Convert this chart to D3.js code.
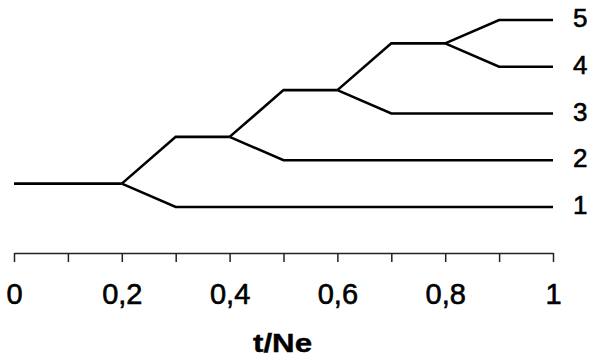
<!DOCTYPE html>
<html>
<head>
<meta charset="utf-8">
<script src="https://cdn.jsdelivr.net/npm/d3@7"></script>
<style>
  body { margin: 0; background: #fff; }
  svg { display: block; }
  .axis path, .axis line { stroke: #222; stroke-width: 1.5; }
  .axis text { font-family: "Liberation Sans", Arial, sans-serif; font-size: 29px; fill: #000; stroke: #000; stroke-width: 0.6; }
</style>
</head>
<body>
<div id="wrapper"></div>
<script>
// tree branches: each is a list of [t/Ne, lineage level]
var branches = [
  [[0, 1.5], [0.2, 1.5]],
  [[0.2, 1.5], [0.3, 1], [1, 1]],
  [[0.2, 1.5], [0.3, 2.5], [0.4, 2.5]],
  [[0.4, 2.5], [0.5, 2], [1, 2]],
  [[0.4, 2.5], [0.5, 3.5], [0.6, 3.5]],
  [[0.6, 3.5], [0.7, 3], [1, 3]],
  [[0.6, 3.5], [0.7, 4.5], [0.8, 4.5]],
  [[0.8, 4.5], [0.9, 4], [1, 4]],
  [[0.8, 4.5], [0.9, 5], [1, 5]]
];
var leafLabels = ["1", "2", "3", "4", "5"];
var leafLevels = [1, 2, 3, 4, 5];
var tickValues = [0, 0.1, 0.2, 0.3, 0.4, 0.5, 0.6, 0.7, 0.8, 0.9, 1];
var tickLabels = {"0": "0", "0.2": "0,2", "0.4": "0,4", "0.6": "0,6", "0.8": "0,8", "1": "1"};
var axisTitle = "t/Ne";

var svg = d3.select('#wrapper')
  .append('svg')
  .attr('width', 589)
  .attr('height', 358);

var x = d3.scaleLinear().domain([0, 1]).range([14, 553]);
var y = d3.scaleLinear().domain([1, 5]).range([207, 20]);

var line = d3.line()
  .x(function(d){ return x(d[0]); })
  .y(function(d){ return y(d[1]); });

svg.selectAll('path.branch')
  .data(branches)
  .enter()
  .append('path')
  .attr('class', 'branch')
  .attr('d', line)
  .style('fill', 'none')
  .style('stroke', '#000')
  .style('stroke-width', 2.6)
  .style('stroke-linejoin', 'miter');

svg.selectAll('text.leaf')
  .data(leafLevels)
  .enter()
  .append('text')
  .attr('class', 'leaf')
  .attr('x', 573)
  .attr('y', function(d){ return y(d) + 7; })
  .style('font-family', '"Liberation Sans", Arial, sans-serif')
  .style('font-size', '26px')
  .style('stroke', '#000')
  .style('stroke-width', 0.6)
  .text(function(d, i){ return leafLabels[i]; });

var axis = d3.axisBottom(x)
  .tickValues(tickValues)
  .tickSize(9)
  .tickSizeOuter(0)
  .tickPadding(21)
  .tickFormat(function(d){ return tickLabels[String(+d.toFixed(1))] || ''; });

svg.append('g')
  .attr('class', 'axis')
  .attr('transform', 'translate(0,253)')
  .call(axis);

svg.append('text')
  .attr('x', 253)
  .attr('y', 352)
  .attr('textLength', 59)
  .attr('lengthAdjust', 'spacingAndGlyphs')
  .style('font-family', '"Liberation Sans", Arial, sans-serif')
  .style('font-weight', 'bold')
  .style('font-size', '26px')
  .style('stroke', '#000')
  .style('stroke-width', 0.4)
  .text(axisTitle);
</script>
</body>
</html>
